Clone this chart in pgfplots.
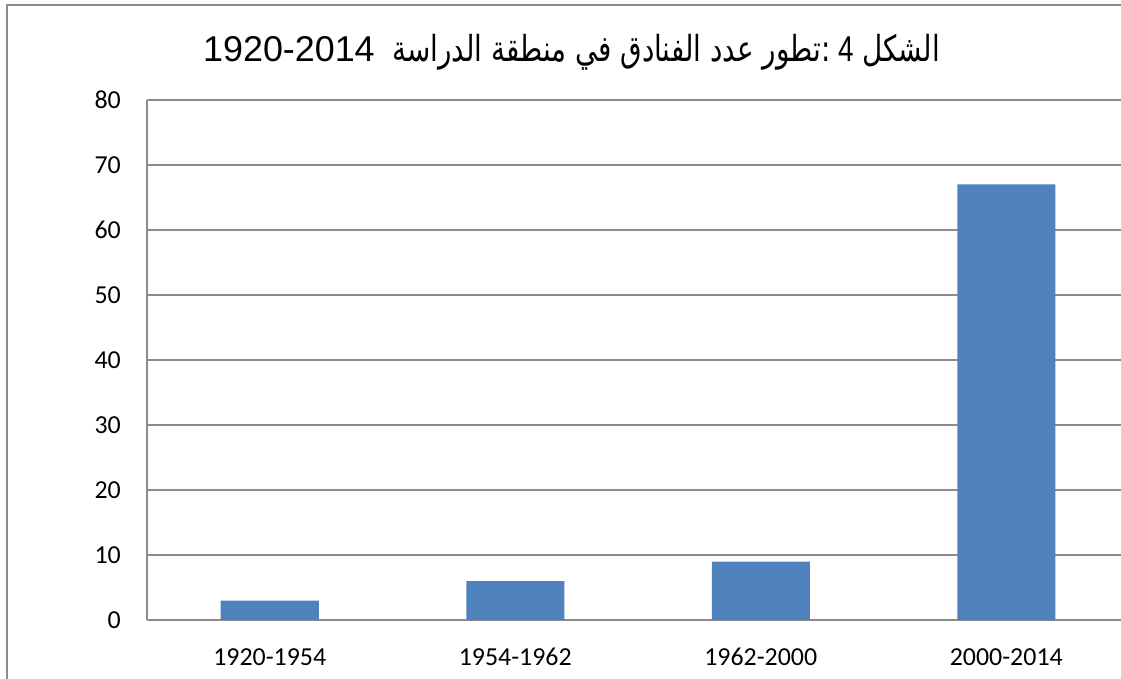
\documentclass[border=0pt]{standalone}
\usepackage{fontspec}
\usepackage{graphicx}
\setmainfont{Carlito}
\newfontfamily\arabicfont[Script=Arabic]{DejaVu Sans}
\newfontfamily\latinfont{Liberation Sans}
\TeXXeTstate=1
\usepackage{pgfplots}
\pgfplotsset{compat=1.18}
\definecolor{barblue}{HTML}{4F81BD}
\definecolor{gridgray}{HTML}{8C8C8C}
\begin{document}
\begin{tikzpicture}
\begin{axis}[
  at={(0,0)}, anchor=south west,
  width=982bp, height=520bp, scale only axis,
  ymin=0, ymax=80, ytick={0,10,...,80},
  xmin=-0.5, xmax=3.5, xtick={0,1,2,3},
  xticklabels={1920-1954,1954-1962,1962-2000,2000-2014},
  ymajorgrids, grid style={gridgray, line width=1.3bp},
  axis x line*=bottom, axis y line*=left,
  axis line style={gridgray, line width=1.5bp, -},
  major tick length=0pt,
  /pgf/number format/assume math mode=true,
  tick label style={font=\fontsize{26}{30}\selectfont, text=black},
  yticklabel style={inner sep=0pt, xshift=-26bp},
  xticklabel style={inner sep=0pt, yshift=-28bp},
]
\addplot[ybar, bar width=98bp, fill=barblue, draw=none] coordinates {(0,3) (1,6) (2,9) (3,67)};
\end{axis}
\draw[gridgray, line width=2bp] (-140bp,-59bp) -- (-140bp,615bp) -- (974bp,615bp);
\node[font=\fontsize{36}{40}\selectfont\latinfont, anchor=base west, inner sep=0pt] at (56bp,558bp) {1920-2014};
\node[font=\fontsize{36}{40}\selectfont, anchor=base east, inner sep=0pt] at (793bp,558bp) {\scalebox{0.775}[1]{\arabicfont\beginR الشكل \latinfont 4 \arabicfont :تطور عدد الفنادق في منطقة الدراسة\endR}};
\pgfresetboundingbox
\useasboundingbox (-147bp,-59bp) rectangle (974bp,620bp);
\end{tikzpicture}
\end{document}
